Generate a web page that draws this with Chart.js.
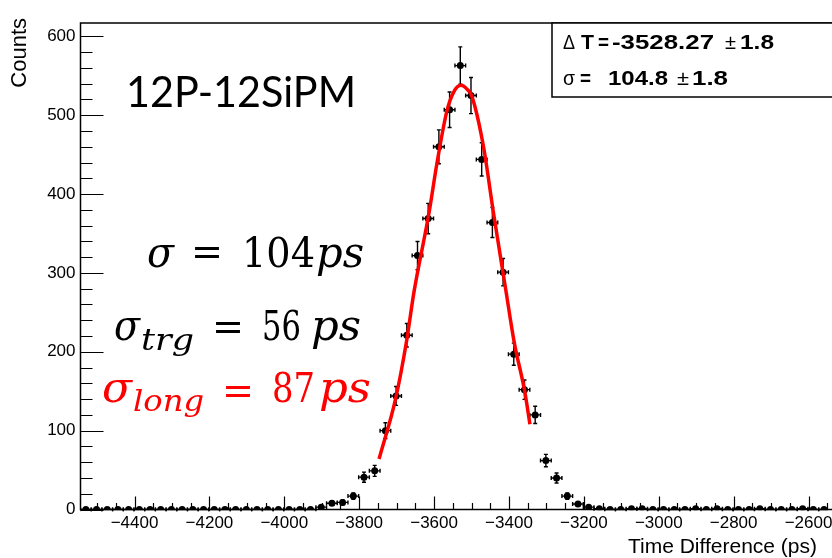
<!DOCTYPE html>
<html>
<head>
<meta charset="utf-8">
<script src="https://cdn.jsdelivr.net/npm/chart.js@4.4.1/dist/chart.umd.min.js"></script>
<style>
  html, body { margin: 0; padding: 0; background: #fff; }
</style>
</head>
<body>
<canvas id="myChart" width="832" height="558"></canvas>
<script>
// histogram binning (ps)
const histMin = -4544.3;
const binWidth = 2000 / 70;

// counts per bin
const counts = [
    0, 0, 0, 0, 0, 0, 0, 0, 0, 0,
    0, 0, 0, 0, 0, 0, 0, 0, 0, 0,
    0, 0, 3, 8, 9, 17, 41, 49, 100, 144,
    221, 322, 369, 460, 507, 563, 525, 444, 364, 301,
    197, 152, 120, 62, 40, 17, 7, 3, 1, 0,
    0, 1, 1, 0, 0, 0, 0, 1, 0, 1,
    0, 0, 0, 1, 0, 0, 0, 1, 0, 0
];

// red gaussian fit
const fitX = [-3747, -3703, -3673, -3654, -3614, -3592, -3566, -3547, -3528, -3510, -3499, -3468, -3442, -3409, -3386, -3358, -3344];
const fitY = [64, 140, 215, 275, 375, 440, 505, 530, 538, 532, 524, 460, 378, 280, 212, 150, 108];

// tick labels
const xTickValues = [-4400, -4200, -4000, -3800, -3600, -3400, -3200, -3000, -2800, -2600];
const yTickValues = [0, 100, 200, 300, 400, 500, 600];
const xMinor = 50, yMinor = 20;

const SANS = '"Liberation Sans", Arial, sans-serif';
Chart.defaults.font.family = SANS;
Chart.defaults.color = '#000';

// draw text squeezed/stretched into [x0, x1]
function fitText(ctx, text, x0, x1, y, font, color) {
    ctx.save();
    ctx.font = font;
    ctx.textAlign = 'left';
    ctx.textBaseline = 'alphabetic';
    var w = ctx.measureText(text).width;
    ctx.translate(x0, y);
    ctx.scale((x1 - x0) / w, 1);
    ctx.fillStyle = color || '#000';
    ctx.fillText(text, 0, 0);
    ctx.restore();
}

var rootStyle = {
    id: 'rootStyle',
    beforeDatasetsDraw: function (chart) {
        var ctx = chart.ctx, xs = chart.scales.x, ys = chart.scales.y, a = chart.chartArea;
        ctx.save();
        ctx.beginPath();
        ctx.rect(a.left, 0, a.right - a.left, a.bottom + 2);
        ctx.clip();
        ctx.strokeStyle = '#000';
        ctx.lineWidth = 1.4;
        counts.forEach(function (c, i) {
            var xc = histMin + (i + 0.5) * binWidth;
            var px = xs.getPixelForValue(xc), py = ys.getPixelForValue(c);
            var pl = xs.getPixelForValue(xc - binWidth / 2), pr = xs.getPixelForValue(xc + binWidth / 2);
            ctx.beginPath();
            ctx.moveTo(pl, py); ctx.lineTo(pr, py);
            ctx.moveTo(pl, py - 2); ctx.lineTo(pl, py + 2);
            ctx.moveTo(pr, py - 2); ctx.lineTo(pr, py + 2);
            if (c > 0) {
                // poisson error
                var e = Math.sqrt(c);
                var pt = ys.getPixelForValue(c + e), pb = ys.getPixelForValue(c - e);
                ctx.moveTo(px, pt); ctx.lineTo(px, pb);
                ctx.moveTo(px - 2, pt); ctx.lineTo(px + 2, pt);
                ctx.moveTo(px - 2, pb); ctx.lineTo(px + 2, pb);
            }
            ctx.stroke();
        });
        ctx.restore();
    },
    afterDraw: function (chart) {
        var ctx = chart.ctx, xs = chart.scales.x, ys = chart.scales.y, a = chart.chartArea;
        ctx.save();
        ctx.strokeStyle = '#000';

        // inward ticks, major ones at the labelled values
        ctx.lineWidth = 1.2;
        ctx.beginPath();
        for (var v = 0; v <= ys.max; v += yMinor) {
            var py = Math.round(ys.getPixelForValue(v)) + 0.5;
            var len = yTickValues.indexOf(v) >= 0 ? 23 : 12;
            ctx.moveTo(a.left, py); ctx.lineTo(a.left + len, py);
        }
        for (var xv = Math.ceil(xs.min / xMinor) * xMinor; xv <= xs.max; xv += xMinor) {
            var px = Math.round(xs.getPixelForValue(xv)) + 0.5;
            var l2 = (xv % 200 === 0) ? 13 : 6.5;
            ctx.moveTo(px, a.bottom); ctx.lineTo(px, a.bottom - l2);
        }
        ctx.stroke();

        // frame
        ctx.lineWidth = 1.5;
        ctx.strokeRect(a.left, a.top, a.right - a.left + 10, a.bottom - a.top);

        // axis titles
        ctx.fillStyle = '#000';
        ctx.font = '21px ' + SANS;
        ctx.textAlign = 'right';
        ctx.textBaseline = 'alphabetic';
        ctx.fillText('Time Difference (ps)', 817, 553);
        ctx.save();
        ctx.translate(26, 18);
        ctx.rotate(-Math.PI / 2);
        ctx.font = '22px ' + SANS;
        ctx.fillText('Counts', 0, 0);
        ctx.restore();

        // slide annotations
        fitText(ctx, '12P-12SiPM', 126, 356, 107, '42px Lato, "Open Sans", sans-serif');

        var SERIF = '"DejaVu Serif", "Liberation Serif", serif';
        var big = '41px ' + SERIF, bigI = 'italic 43px ' + SERIF, sub = 'italic 30px ' + SERIF;
        var eq = '40px ' + SERIF;

        fitText(ctx, 'σ', 147, 174, 267, bigI);
        fitText(ctx, '=', 191, 223, 265, eq);
        fitText(ctx, '104', 242, 315, 267, big);
        fitText(ctx, 'ps', 316, 364, 267, bigI);

        fitText(ctx, 'σ', 114, 140, 340, bigI);
        fitText(ctx, 'trg', 141, 194, 350, sub);
        fitText(ctx, '=', 212, 244, 340, eq);
        fitText(ctx, '56', 262, 301, 340, big);
        fitText(ctx, 'ps', 311, 361, 340, bigI);

        var red = '#ff0000';
        fitText(ctx, 'σ', 102, 132, 402, bigI, red);
        fitText(ctx, 'long', 133, 204, 411, sub, red);
        fitText(ctx, '=', 222, 254, 404, eq, red);
        fitText(ctx, '87', 272, 315, 402, big, red);
        fitText(ctx, 'ps', 319, 371, 402, bigI, red);

        // stats box
        ctx.fillStyle = '#fff';
        ctx.fillRect(552, 23, 300, 74);
        ctx.lineWidth = 1.5;
        ctx.strokeRect(552, 23, 300, 74);
        var bold = 'bold 21px ' + SANS, reg = '21px ' + SANS;
        fitText(ctx, 'Δ', 563, 575, 49, reg);
        fitText(ctx, 'T', 581, 594, 49, bold);
        fitText(ctx, '=', 598, 609, 49, bold);
        fitText(ctx, '-3528.27', 612, 714, 49, bold);
        fitText(ctx, '±', 725, 736, 49, reg);
        fitText(ctx, '1.8', 740, 774, 49, bold);
        fitText(ctx, 'σ', 563, 575, 85, reg);
        fitText(ctx, '=', 580, 591, 85, bold);
        fitText(ctx, '104.8', 608, 668, 85, bold);
        fitText(ctx, '±', 677, 689, 85, reg);
        fitText(ctx, '1.8', 692, 728, 85, bold);

        ctx.restore();
    }
};

var points = counts.map(function (c, i) {
    return { x: histMin + (i + 0.5) * binWidth, y: c };
});
var fitPoints = fitX.map(function (x, i) { return { x: x, y: fitY[i] }; });

var ctx = document.getElementById('myChart').getContext('2d');
var myChart = new Chart(ctx, {
    type: 'scatter',
    data: {
        datasets: [{
            label: 'data',
            data: points,
            pointRadius: 3.5,
            pointBackgroundColor: '#000',
            pointBorderColor: '#000',
            pointBorderWidth: 0,
            showLine: false,
            order: 2
        }, {
            label: 'fit',
            data: fitPoints,
            showLine: true,
            borderColor: '#ff0000',
            borderWidth: 3.5,
            pointRadius: 0,
            cubicInterpolationMode: 'monotone',
            fill: false,
            order: 1
        }]
    },
    options: {
        responsive: false,
        animation: false,
        layout: { padding: { top: 23, right: 0, left: 0, bottom: 0 } },
        plugins: {
            legend: { display: false },
            tooltip: { enabled: false }
        },
        scales: {
            x: {
                type: 'linear',
                min: histMin,
                max: -2548,
                grid: { display: false, drawTicks: false },
                border: { display: false },
                afterBuildTicks: function (s) {
                    s.ticks = xTickValues.map(function (v) { return { value: v }; });
                },
                ticks: {
                    autoSkip: false,
                    maxRotation: 0,
                    padding: 4,
                    font: { size: 17 },
                    color: '#000',
                    callback: function (v) {
                        return v < 0 ? '\u2212' + Math.abs(v) : String(v);
                    }
                },
                afterFit: function (s) { s.height = 48.5; s.paddingLeft = 0; s.paddingRight = 0; }
            },
            y: {
                min: 0,
                max: 617,
                grid: { display: false, drawTicks: false },
                border: { display: false },
                afterBuildTicks: function (s) {
                    s.ticks = yTickValues.map(function (v) { return { value: v }; });
                },
                ticks: {
                    padding: 5,
                    font: { size: 17 },
                    color: '#000'
                },
                afterFit: function (s) { s.width = 80.5; s.paddingTop = 0; s.paddingBottom = 0; }
            }
        }
    },
    plugins: [rootStyle]
});
</script>
</body>
</html>
